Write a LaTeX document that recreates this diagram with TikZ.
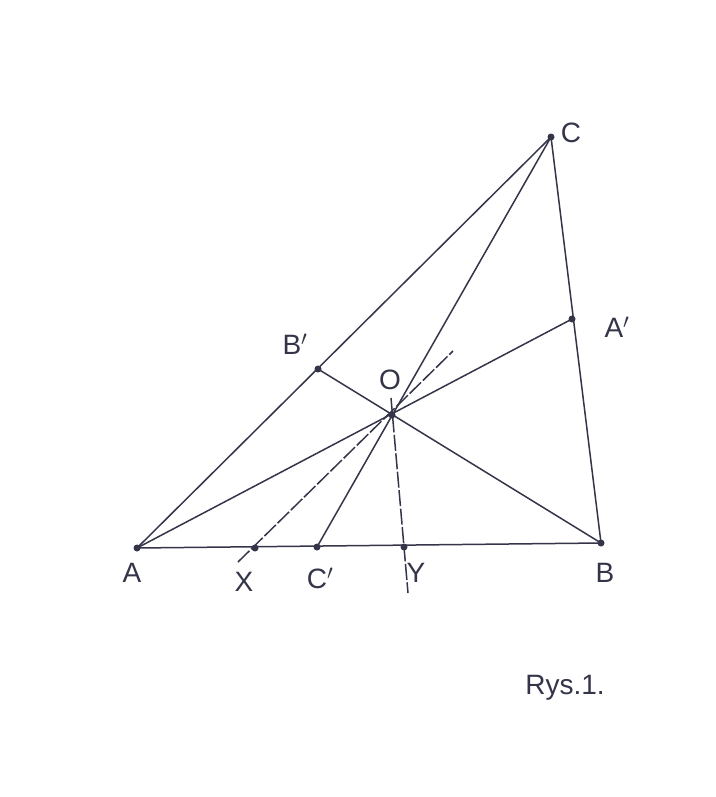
\documentclass[tikz,border=0pt]{standalone}
\usepackage{fontspec}
\setmainfont{Liberation Sans}
\begin{document}
\begin{tikzpicture}[x=1pt,y=-1pt,
  ink/.style={draw=inkc, line width=1.5pt},
  dashln/.style={draw=inkc, line width=1.5pt, dash pattern=on 16pt off 2.5pt},
  pt/.style={circle, fill=inkc, inner sep=0pt, minimum size=7pt},
  lbl/.style={text=inkc, font=\fontsize{28}{30}\selectfont, inner sep=0pt}]
\definecolor{inkc}{HTML}{35354A}
\useasboundingbox[fill=white] (0,0) rectangle (715,797);
% points
\node[pt] (A) at (137,548) {};
\node[pt] (B) at (601,543) {};
\node[pt] (C) at (551,137) {};
\node[pt] (Ap) at (572,319) {};
\node[pt] (Bp) at (318,369) {};
\node[pt] (Cp) at (317,547) {};
\node[pt] (O) at (392,415) {};
\node[pt] (X) at (255,548) {};
\node[pt] (Y) at (404,547) {};
\coordinate (XL) at (238,562);
\coordinate (XU) at (453,351);
\coordinate (YU) at (391,398);
\coordinate (YL) at (408,593);
% triangle
\draw[ink] (A.center) -- (B.center) -- (C.center) -- cycle;
% cevians
\draw[ink] (A.center) -- (Ap.center);
\draw[ink] (B.center) -- (Bp.center);
\draw[ink] (C.center) -- (Cp.center);
% dashed lines
\draw[dashln] (XL) -- (XU);
\draw[dashln] (YU) -- (YL);
% labels
\node[lbl] (lA) at (132,573) {A};
\node[lbl] (lB) at (605,573) {B};
\node[lbl] (lC) at (571,133) {C};
\node[lbl] (lAp) at (617,327) {A$'$};
\node[lbl] (lBp) at (295,344) {B$'$};
\node[lbl] (lCp) at (320,578) {C$'$};
\node[lbl] (lO) at (390,380) {O};
\node[lbl] (lX) at (244,582) {X};
\node[lbl] (lY) at (416,573) {Y};
\node[lbl] (lR) at (565,688) {Rys.1.};
\end{tikzpicture}
\end{document}
